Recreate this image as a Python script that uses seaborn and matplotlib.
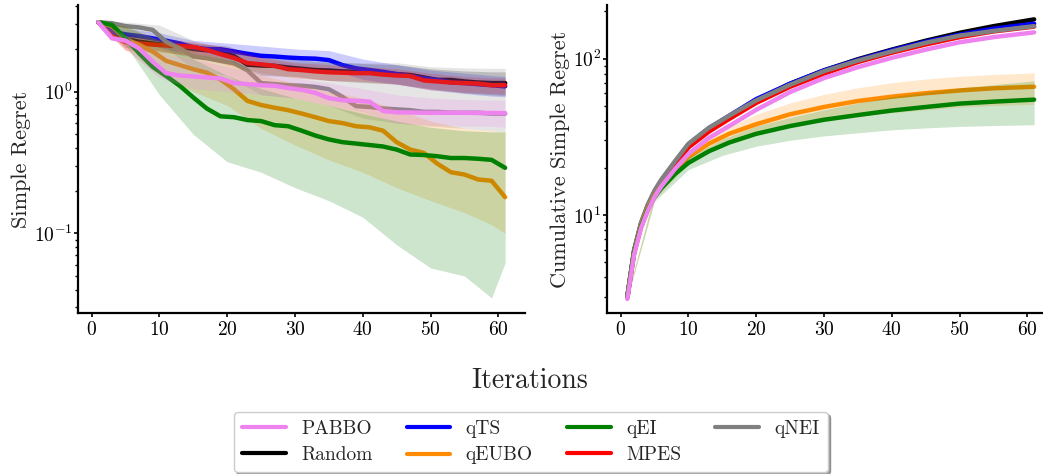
import numpy as np
import pandas as pd
import matplotlib
matplotlib.use("Agg")
import matplotlib.pyplot as plt
import seaborn as sns
from matplotlib.lines import Line2D

# ---------------- data ----------------
methods = ["PABBO", "Random", "qTS", "qEUBO", "qEI", "MPES", "qNEI"]
colors = {"PABBO": "violet", "Random": "black", "qTS": "blue", "qEUBO": "darkorange",
          "qEI": "green", "MPES": "red", "qNEI": "gray"}

# left panel: simple regret (odd iterations)
iters = list(range(1, 62, 2))
sr_pabbo = [3.09, 2.38, 2.29, 2.02, 1.63, 1.35, 1.30, 1.28, 1.26, 1.24, 1.15, 1.13, 1.11, 1.10, 1.06, 1.03,
            0.98, 0.90, 0.87, 0.86, 0.85, 0.73, 0.715, 0.713, 0.71, 0.71, 0.71, 0.71, 0.707, 0.707, 0.705]
sr_random = [3.09, 2.58, 2.35, 2.25, 2.19, 2.14, 2.08, 2.00, 1.96, 1.92, 1.78, 1.55, 1.53, 1.52, 1.48, 1.45,
             1.42, 1.41, 1.39, 1.38, 1.37, 1.35, 1.33, 1.31, 1.26, 1.21, 1.21, 1.18, 1.16, 1.15, 1.15]
sr_qts = [3.09, 2.65, 2.54, 2.47, 2.38, 2.29, 2.19, 2.05, 2.00, 1.99, 1.92, 1.85, 1.79, 1.77, 1.74, 1.72,
          1.71, 1.67, 1.54, 1.46, 1.42, 1.38, 1.33, 1.29, 1.24, 1.21, 1.16, 1.15, 1.13, 1.11, 1.09]
sr_qeubo = [3.09, 2.91, 2.34, 2.14, 1.92, 1.65, 1.54, 1.44, 1.36, 1.22, 1.04, 0.86, 0.805, 0.77, 0.74, 0.70,
            0.66, 0.62, 0.60, 0.57, 0.56, 0.53, 0.44, 0.39, 0.37, 0.31, 0.27, 0.26, 0.24, 0.235, 0.18]
sr_qei = [3.09, 2.96, 2.38, 1.87, 1.50, 1.29, 1.10, 0.91, 0.76, 0.67, 0.66, 0.63, 0.62, 0.58, 0.57, 0.53,
          0.49, 0.46, 0.44, 0.43, 0.42, 0.41, 0.39, 0.36, 0.357, 0.35, 0.34, 0.34, 0.336, 0.33, 0.29]
sr_mpes = [3.09, 2.45, 2.24, 2.19, 2.15, 2.12, 2.10, 2.07, 1.97, 1.84, 1.73, 1.59, 1.56, 1.52, 1.44, 1.42,
           1.39, 1.37, 1.36, 1.35, 1.35, 1.32, 1.30, 1.29, 1.20, 1.18, 1.16, 1.15, 1.14, 1.11, 1.11]
sr_qnei = [3.09, 3.04, 2.90, 2.84, 2.73, 2.25, 2.02, 1.77, 1.72, 1.65, 1.59, 1.41, 1.15, 1.13, 1.11, 1.10,
           1.08, 1.04, 0.92, 0.79, 0.78, 0.76, 0.75, 0.74, 0.72, 0.72, 0.71, 0.71, 0.71, 0.70, 0.70]

# left panel: band edges
band_iters = [1, 5, 10, 15, 20, 25, 30, 35, 40, 45, 50, 55, 59, 61]
sr_pabbo_lo = [3.0, 2.0, 1.25, 1.05, 1.0, 0.95, 0.9, 0.8, 0.72, 0.6, 0.58, 0.57, 0.57, 0.56]
sr_pabbo_hi = [3.12, 2.5, 1.9, 1.7, 1.5, 1.35, 1.25, 1.15, 1.05, 0.95, 0.9, 0.88, 0.87, 0.87]
sr_random_lo = [3.0, 2.05, 1.95, 1.75, 1.65, 1.3, 1.28, 1.2, 1.16, 1.13, 1.05, 0.98, 0.95, 0.94]
sr_random_hi = [3.12, 2.6, 2.4, 2.2, 2.1, 1.75, 1.68, 1.62, 1.58, 1.55, 1.45, 1.4, 1.38, 1.38]
sr_qts_lo = [3.0, 2.3, 2.05, 1.8, 1.7, 1.55, 1.5, 1.45, 1.22, 1.13, 1.03, 0.97, 0.93, 0.92]
sr_qts_hi = [3.15, 2.8, 2.6, 2.3, 2.2, 2.1, 2.0, 1.95, 1.7, 1.55, 1.42, 1.35, 1.3, 1.28]
sr_qeubo_lo = [3.06, 2.0, 1.3, 1.0, 0.8, 0.55, 0.42, 0.33, 0.27, 0.21, 0.17, 0.14, 0.115, 0.10]
sr_qeubo_hi = [3.12, 2.9, 2.3, 2.0, 1.7, 1.3, 1.15, 1.0, 0.9, 0.75, 0.62, 0.55, 0.53, 0.52]
sr_qei_lo = [3.09, 2.14, 0.95, 0.50, 0.32, 0.27, 0.21, 0.17, 0.13, 0.083, 0.057, 0.050, 0.035, 0.062]
sr_qei_hi = [3.12, 2.9, 2.3, 1.7, 1.3, 1.05, 0.9, 0.8, 0.7, 0.62, 0.56, 0.53, 0.52, 0.52]
sr_mpes_lo = [3.0, 1.95, 1.9, 1.8, 1.55, 1.35, 1.25, 1.2, 1.18, 1.13, 1.03, 0.99, 0.97, 0.96]
sr_mpes_hi = [3.12, 2.5, 2.35, 2.25, 2.05, 1.75, 1.6, 1.55, 1.5, 1.45, 1.35, 1.28, 1.25, 1.25]
sr_qnei_lo = [3.0, 2.6, 2.2, 1.45, 1.3, 0.95, 0.9, 0.8, 0.65, 0.6, 0.57, 0.55, 0.53, 0.52]
sr_qnei_hi = [3.2, 3.1, 2.95, 2.3, 2.0, 1.7, 1.6, 1.6, 1.6, 1.6, 1.5, 1.47, 1.46, 1.46]

# right panel: cumulative simple regret
cum_iters = [1, 2, 3, 4, 5, 6, 8, 10, 13, 16, 20, 25, 30, 35, 40, 45, 50, 55, 61]
cs_random = [3.0, 5.9, 8.7, 11.4, 14.0, 16.5, 21.5, 28.0, 35.5, 42.5, 54, 69, 84, 99, 114, 130, 146, 161, 178]
cs_qts = [3.0, 5.9, 8.7, 11.4, 14.0, 16.5, 21.6, 28.2, 35.8, 43, 55, 69, 84, 98, 113, 128, 142, 155, 167]
cs_qnei = [3.0, 6.0, 8.9, 11.6, 14.3, 16.8, 22.0, 28.5, 36, 43, 54, 68, 83, 97, 111, 126, 140, 150, 161]
cs_mpes = [2.95, 5.7, 8.4, 11.0, 13.5, 15.9, 20.7, 27.0, 34, 41, 52, 66, 80, 95, 109, 123, 137, 149, 160]
cs_pabbo = [2.9, 5.6, 8.2, 10.6, 13.0, 15.2, 19.6, 24.5, 31, 37, 47, 61, 75, 88, 101, 114, 127, 137, 147]
cs_qeubo = [3.0, 5.8, 8.5, 11.0, 13.2, 15.2, 19.0, 23.5, 28.5, 33, 38, 44, 49, 53.5, 57, 60, 62.5, 64.5, 66]
cs_qei = [3.0, 5.8, 8.4, 10.8, 13.0, 14.8, 18.2, 21.5, 25.5, 29, 33, 37, 40.6, 43.5, 46.5, 49, 51.5, 53, 54.6]

cum_band_iters = [1, 5, 10, 15, 20, 25, 30, 35, 40, 45, 50, 55, 61]
cs_qeubo_lo = [2.95, 12.5, 21.5, 29, 33, 37, 40, 43, 45, 47, 49, 50, 51]
cs_qeubo_hi = [3.05, 14, 26, 35, 44, 52, 59, 65, 70, 74, 77, 79, 81]
cs_qei_lo = [2.95, 12.2, 19.5, 24, 27.5, 30, 32, 33.5, 35, 36, 36.8, 37.3, 37.7]
cs_qei_hi = [3.05, 13.8, 23.5, 30.5, 37, 42, 47, 52, 57, 61, 65, 68, 72]

left_series = {
    "Random": (sr_random, sr_random_lo, sr_random_hi),
    "qTS": (sr_qts, sr_qts_lo, sr_qts_hi),
    "MPES": (sr_mpes, sr_mpes_lo, sr_mpes_hi),
    "qNEI": (sr_qnei, sr_qnei_lo, sr_qnei_hi),
    "qEUBO": (sr_qeubo, sr_qeubo_lo, sr_qeubo_hi),
    "qEI": (sr_qei, sr_qei_lo, sr_qei_hi),
    "PABBO": (sr_pabbo, sr_pabbo_lo, sr_pabbo_hi),
}
right_series = {
    "Random": (cs_random, None, None),
    "qTS": (cs_qts, None, None),
    "MPES": (cs_mpes, None, None),
    "qNEI": (cs_qnei, None, None),
    "qEUBO": (cs_qeubo, cs_qeubo_lo, cs_qeubo_hi),
    "qEI": (cs_qei, cs_qei_lo, cs_qei_hi),
    "PABBO": (cs_pabbo, None, None),
}

# ---------------- style ----------------
sns.set_style("ticks")
plt.rcParams["font.family"] = ["cmr10", "DejaVu Serif"]
plt.rcParams["mathtext.fontset"] = "cm"
plt.rcParams["axes.unicode_minus"] = False
plt.rcParams["axes.formatter.use_mathtext"] = True

fig = plt.figure(figsize=(10.43, 4.74), dpi=100)
ax1 = fig.add_axes([0.0748, 0.3397, 0.429, 0.6498])
ax2 = fig.add_axes([0.582, 0.3397, 0.429, 0.6498])


def draw(ax, xs, series, bx):
    for name, (vals, lo, hi) in series.items():
        c = colors[name]
        df = pd.DataFrame({"Iteration": xs, "value": vals})
        sns.lineplot(data=df, x="Iteration", y="value", ax=ax, color=c, lw=3.2,
                     legend=False, zorder=2)
        if lo is not None:
            ax.fill_between(bx, lo, hi, color=c, alpha=0.2, lw=0, zorder=2)


draw(ax1, iters, left_series, band_iters)
draw(ax2, cum_iters, right_series, cum_band_iters)

for ax in (ax1, ax2):
    ax.set_yscale("log")
    ax.set_xlim(-2, 64)
    ax.set_xticks([0, 10, 20, 30, 40, 50, 60])
    ax.set_xlabel("")
    ax.tick_params(axis="both", which="major", labelsize=14, colors="black",
                   width=1.2, length=3, pad=2.5)
    ax.tick_params(axis="y", which="major", pad=1.0)
    ax.tick_params(axis="y", which="minor", width=1.0, length=2, colors="black")
    for s in ("left", "bottom"):
        ax.spines[s].set_linewidth(1.6)
        ax.spines[s].set_color("black")
    sns.despine(ax=ax)

ax1.set_ylim(0.0274, 4.09)
ax2.set_ylim(2.36, 220)
ax1.set_ylabel("Simple Regret", fontsize=16, labelpad=2)
ax2.set_ylabel("Cumulative Simple Regret", fontsize=16, labelpad=2)

fig.text(0.508, 0.196, "Iterations", ha="center", va="center", fontsize=20)

handles = [Line2D([], [], color=colors[m], lw=3) for m in methods]
leg = fig.legend(handles, methods, loc="lower center", bbox_to_anchor=(0.509, 0.004),
                 borderaxespad=0.0, ncol=4, fontsize=14, shadow=True, handlelength=2.25,
                 columnspacing=1.75, labelspacing=0.45, frameon=True, fancybox=True)
leg.get_frame().set_edgecolor("#cccccc")

fig.savefig("out.png", dpi=100)
